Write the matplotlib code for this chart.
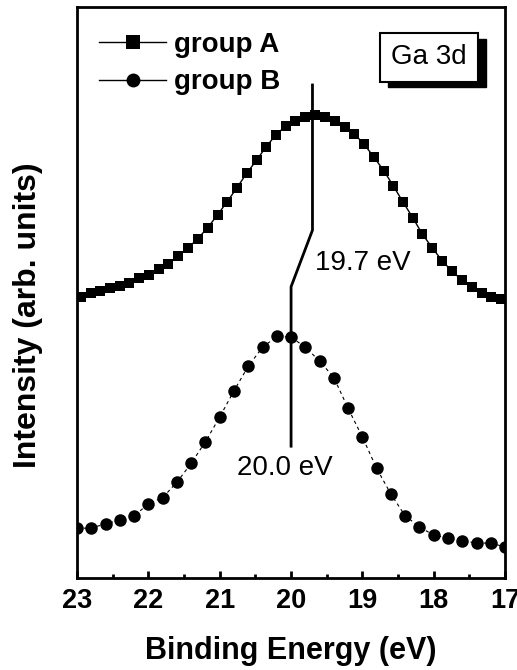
import matplotlib
matplotlib.use("Agg")
import matplotlib.pyplot as plt
from matplotlib.lines import Line2D
from matplotlib.patches import Rectangle

plt.rcParams['font.family'] = ['Liberation Sans', 'DejaVu Sans']

# Ga 3d core-level spectra (binding energy in eV, intensity in arb. units)
energy_a = [22.95, 22.81, 22.68, 22.54, 22.40, 22.27, 22.13, 21.99, 21.85, 21.72,
            21.58, 21.44, 21.31, 21.17, 21.03, 20.90, 20.76, 20.62, 20.48, 20.35,
            20.21, 20.07, 19.94, 19.80, 19.66, 19.53, 19.39, 19.25, 19.12, 18.98,
            18.84, 18.70, 18.57, 18.43, 18.29, 18.16, 18.02, 17.88, 17.75, 17.61,
            17.47, 17.33, 17.20, 17.06]
intensity_a = [49.2, 49.9, 50.3, 50.8, 51.1, 51.7, 52.5, 53.1, 54.1, 55.0,
               56.4, 57.8, 59.4, 61.3, 63.6, 65.8, 68.3, 70.9, 73.2, 75.5,
               77.6, 79.2, 80.0, 80.7, 81.1, 80.7, 80.0, 79.0, 77.8, 76.0,
               73.7, 71.3, 68.7, 65.8, 63.0, 60.2, 57.8, 55.5, 53.8, 52.2,
               51.0, 49.9, 49.2, 48.9]

energy_b = [23.0, 22.8, 22.6, 22.4, 22.2, 22.0, 21.8, 21.6, 21.4, 21.2,
            21.0, 20.8, 20.6, 20.4, 20.2, 20.0, 19.8, 19.6, 19.4, 19.2,
            19.0, 18.8, 18.6, 18.4, 18.2, 18.0, 17.8, 17.6, 17.4, 17.2, 17.0]
intensity_b = [8.7, 8.8, 9.5, 10.2, 10.9, 13.0, 14.1, 16.8, 20.1, 23.9,
               28.2, 32.8, 37.1, 40.4, 42.3, 42.2, 40.4, 38.0, 35.1, 29.7,
               24.7, 19.2, 14.7, 10.9, 9.0, 7.5, 7.1, 6.5, 6.2, 6.1, 5.5]

peak_a = 19.7
peak_b = 20.0
series_labels = ["group A", "group B"]
xticks = [23, 22, 21, 20, 19, 18, 17]

fig = plt.figure(figsize=(5.17, 6.70), dpi=100)
ax = fig.add_axes([0.149, 0.137, 0.828, 0.853])

ax.plot(energy_a, intensity_a, color='black', lw=1.0, marker='s',
        markersize=7.8, markeredgewidth=0, linestyle='-')
ax.plot(energy_b, intensity_b, color='black', lw=0.8, marker='o',
        markersize=9, markeredgewidth=0, linestyle=(0, (3, 3)))

# peak position markers joined by a kinked leader
ax.plot([peak_a, peak_a, peak_b, peak_b], [86.3, 60.9, 51.0, 23.1],
        color='black', lw=2.0, solid_joinstyle='miter')
ax.text(19.66, 55.2, f"{peak_a:.1f} eV", fontsize=20, va='center', ha='left')
ax.text(20.76, 19.3, f"{peak_b:.1f} eV", fontsize=20, va='center', ha='left')

ax.set_xlim(23, 17)
ax.set_ylim(0, 100)
ax.set_xticks(xticks)
ax.set_xticklabels([str(t) for t in xticks], fontsize=19.5, fontweight='bold')
ax.set_xticks([22.5, 21.5, 20.5, 19.5, 18.5, 17.5], minor=True)
ax.tick_params(axis='x', which='major', direction='in', length=5, width=2, pad=7)
ax.tick_params(axis='x', which='minor', direction='in', length=3, width=2)
ax.set_yticks([])
for s in ax.spines.values():
    s.set_linewidth(2)

ax.set_xlabel("Binding Energy (eV)", fontsize=22, fontweight='bold', labelpad=16)
ax.set_ylabel("Intensity (arb. units)", fontsize=23, fontweight='bold')
ax.yaxis.set_label_coords(-0.08, 0.46)

handles = [Line2D([], [], color='black', lw=1, marker='s', markersize=10, markeredgewidth=0),
           Line2D([], [], color='black', lw=1, marker='o', markersize=10, markeredgewidth=0)]
ax.legend(handles, series_labels, loc='upper left', frameon=False,
          prop={'size': 20, 'weight': 'bold'}, handlelength=2.4,
          handletextpad=0.3, labelspacing=0.42, borderaxespad=0.4,
          bbox_to_anchor=(0.0, 0.995))

# boxed label with a drop shadow
x0, y0, w, h = 0.708, 0.869, 0.229, 0.085
ax.add_patch(Rectangle((x0 + 0.018, y0 - 0.010), w, h, transform=ax.transAxes,
                       facecolor='black', edgecolor='black', zorder=4))
ax.add_patch(Rectangle((x0, y0), w, h, transform=ax.transAxes,
                       facecolor='white', edgecolor='black', lw=1.5, zorder=5))
ax.text(x0 + w / 2, y0 + h / 2, "Ga 3d", transform=ax.transAxes, fontsize=20,
        ha='center', va='center', zorder=6)

fig.savefig("out.png", dpi=100)
